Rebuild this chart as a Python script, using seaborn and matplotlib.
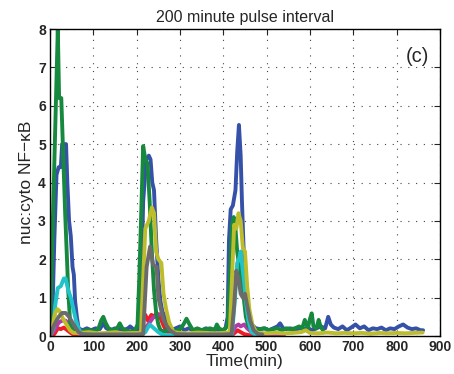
import numpy as np
import pandas as pd
import matplotlib
matplotlib.use("Agg")
import matplotlib.pyplot as plt
import seaborn as sns

# ---- data (time in min, nuc:cyto NF-kB ratio) ----
t_green = [0, 10, 18, 21, 26, 35, 42, 47, 55, 65, 75, 85, 95, 105, 112, 118, 123, 128, 135, 145, 155, 161, 167,
           175, 185, 195, 202, 206, 210, 215, 220, 225, 230, 235, 240, 245, 250, 255, 262, 270, 280, 290, 300,
           308, 315, 322, 330, 340, 350, 360, 370, 380, 385, 390, 398, 405, 410, 415, 420, 424, 428, 432, 437,
           442, 447, 452, 458, 465, 475, 485, 495, 505, 515, 525, 535, 545, 555, 565, 575, 582, 588, 595, 600,
           604, 608, 615, 620, 623, 627, 630]
v_green = [0.05, 4.5, 8.0, 6.2, 6.2, 3.2, 1.2, 0.25, 0.15, 0.1, 0.12, 0.15, 0.15, 0.12, 0.2, 0.4, 0.5, 0.35, 0.2,
           0.15, 0.2, 0.33, 0.2, 0.15, 0.12, 0.12, 0.3, 1.5, 3.0, 4.95, 4.6, 4.5, 3.5, 2.2, 1.2, 0.6, 0.3, 0.15,
           0.12, 0.15, 0.2, 0.12, 0.18, 0.3, 0.45, 0.3, 0.15, 0.2, 0.15, 0.18, 0.2, 0.15, 0.3, 0.2, 0.15, 0.2,
           0.3, 1.5, 2.9, 3.1, 2.8, 2.2, 1.8, 1.5, 1.0, 0.5, 0.25, 0.2, 0.15, 0.18, 0.2, 0.15, 0.18, 0.2, 0.15,
           0.2, 0.18, 0.2, 0.25, 0.2, 0.42, 0.2, 0.45, 0.59, 0.25, 0.2, 0.42, 0.3, 0.2, 0.15]

t_blue = [0, 5, 10, 15, 20, 25, 28, 37, 40, 44, 48, 52, 55, 58, 62, 66, 75, 85, 95, 105, 115, 123, 130, 140, 150,
          160, 170, 180, 185, 195, 205, 210, 215, 222, 228, 232, 236, 240, 245, 250, 255, 260, 265, 272, 280, 290,
          300, 310, 320, 330, 340, 350, 360, 370, 380, 390, 400, 405, 410, 413, 417, 422, 428, 432, 436, 440, 443,
          447, 452, 457, 465, 475, 485, 495, 505, 515, 525, 531, 538, 545, 555, 565, 575, 585, 595, 605, 615, 625,
          635, 642, 648, 655, 665, 675, 685, 695, 705, 715, 725, 735, 745, 755, 765, 775, 785, 795, 805, 815, 825,
          835, 845, 855, 861]
v_blue = [0.0, 0.3, 2.5, 4.2, 4.4, 4.4, 5.0, 5.0, 4.0, 3.0, 2.6, 1.8, 1.6, 0.9, 0.5, 0.2, 0.15, 0.2, 0.15, 0.2,
          0.18, 0.33, 0.2, 0.15, 0.2, 0.18, 0.15, 0.2, 0.25, 0.15, 0.2, 1.0, 3.5, 4.6, 4.7, 4.6, 4.0, 3.8, 2.5,
          1.5, 0.9, 0.6, 0.4, 0.2, 0.15, 0.2, 0.25, 0.15, 0.2, 0.15, 0.18, 0.15, 0.2, 0.15, 0.18, 0.15, 0.15,
          0.2, 0.5, 2.5, 3.3, 3.4, 3.8, 4.8, 5.5, 4.7, 3.5, 2.2, 1.2, 0.6, 0.3, 0.2, 0.18, 0.2, 0.15, 0.2, 0.25,
          0.33, 0.2, 0.18, 0.2, 0.15, 0.2, 0.18, 0.2, 0.15, 0.2, 0.25, 0.2, 0.5, 0.3, 0.22, 0.18, 0.25, 0.15,
          0.22, 0.3, 0.2, 0.25, 0.15, 0.2, 0.18, 0.22, 0.15, 0.2, 0.18, 0.25, 0.3, 0.22, 0.18, 0.2, 0.15, 0.15]

t_cyan = [0, 8, 12, 18, 25, 32, 36, 42, 48, 54, 60, 66, 70, 80, 100, 150, 200, 210, 220, 230, 240, 250, 260,
          300, 350, 400, 420, 427, 432, 436, 440, 444, 448, 452, 458, 465, 475, 490]
v_cyan = [0.0, 0.2, 0.8, 1.25, 1.3, 1.5, 1.5, 1.2, 1.0, 0.7, 0.4, 0.2, 0.1, 0.05, 0.03, 0.03, 0.03, 0.02, 0.1,
          0.3, 0.2, 0.1, 0.03, 0.02, 0.03, 0.02, 0.05, 1.0, 1.9, 2.0, 2.2, 1.8, 1.4, 0.9, 0.4, 0.1, 0.03, 0.03]

t_yellow = [0, 5, 12, 17, 22, 30, 38, 46, 54, 70, 90, 110, 130, 150, 170, 190, 205, 210, 215, 220, 228, 235, 240,
            245, 250, 257, 262, 268, 275, 285, 300, 320, 340, 360, 380, 400, 415, 420, 425, 430, 435, 440, 445,
            450, 455, 460, 467, 475, 480, 500, 520, 540, 560, 580, 590, 600, 620, 640, 660, 680, 700, 720, 740,
            760, 780, 800, 820, 840, 860]
v_yellow = [0.02, 0.2, 0.6, 0.7, 0.65, 0.45, 0.3, 0.15, 0.08, 0.08, 0.1, 0.07, 0.08, 0.1, 0.07, 0.08, 0.08, 0.1,
            1.5, 2.8, 3.0, 3.35, 3.2, 2.2, 2.0, 1.9, 1.1, 0.7, 0.35, 0.1, 0.08, 0.07, 0.09, 0.08, 0.07, 0.08,
            0.1, 1.5, 2.9, 2.8, 3.2, 3.0, 2.3, 2.2, 1.3, 0.7, 0.3, 0.12, 0.08, 0.07, 0.08, 0.07, 0.08, 0.1,
            0.15, 0.08, 0.07, 0.09, 0.07, 0.08, 0.07, 0.08, 0.06, 0.08, 0.07, 0.08, 0.07, 0.08, 0.09]

t_gray = [0, 10, 20, 28, 36, 44, 52, 60, 66, 75, 100, 150, 200, 215, 223, 231, 238, 246, 250, 256, 262, 270, 277,
          290, 320, 360, 400, 419, 425, 430, 435, 440, 445, 450, 455, 462, 470, 480, 490]
v_gray = [0.0, 0.3, 0.5, 0.6, 0.6, 0.5, 0.35, 0.2, 0.1, 0.05, 0.04, 0.04, 0.04, 0.05, 1.8, 2.33, 1.85, 1.8, 1.0,
          0.7, 0.42, 0.25, 0.15, 0.05, 0.04, 0.04, 0.04, 0.05, 0.8, 1.7, 1.5, 1.1, 1.0, 1.1, 0.8, 0.4, 0.15,
          0.05, 0.04]

t_magenta = [0, 10, 20, 28, 36, 45, 52, 60, 70, 100, 150, 200, 206, 215, 223, 230, 238, 250, 261, 267, 273, 280,
             286, 295, 350, 400, 420, 428, 435, 440, 448, 455, 465, 475, 500, 540]
v_magenta = [0.0, 0.15, 0.35, 0.4, 0.4, 0.3, 0.2, 0.1, 0.03, 0.02, 0.02, 0.02, 0.1, 0.18, 0.25, 0.35, 0.48, 0.55,
             0.6, 0.45, 0.33, 0.2, 0.1, 0.03, 0.02, 0.02, 0.05, 0.25, 0.3, 0.25, 0.3, 0.2, 0.1, 0.05, 0.03, 0.03]

t_red = [0, 10, 18, 25, 32, 40, 48, 55, 100, 150, 205, 210, 215, 220, 226, 234, 240, 246, 254, 262, 270, 280,
         350, 420, 428, 433, 440, 448, 460, 500]
v_red = [0.0, 0.05, 0.2, 0.18, 0.22, 0.15, 0.08, 0.03, 0.02, 0.02, 0.02, 0.3, 0.45, 0.55, 0.4, 0.55, 0.5, 0.6,
         0.5, 0.27, 0.1, 0.03, 0.02, 0.02, 0.1, 0.15, 0.1, 0.05, 0.02, 0.02]

series = [
    ("red", t_red, v_red, "#ee1c24"),
    ("magenta", t_magenta, v_magenta, "#b23bab"),
    ("blue", t_blue, v_blue, "#3651a8"),
    ("green", t_green, v_green, "#16893f"),
    ("cyan", t_cyan, v_cyan, "#1fc3c9"),
    ("yellow", t_yellow, v_yellow, "#bdbd2b"),
    ("gray", t_gray, v_gray, "#6b6b6b"),
]

x_ticks = [0, 100, 200, 300, 400, 500, 600, 700, 800, 900]
y_ticks = [0, 1, 2, 3, 4, 5, 6, 7, 8]

sns.set_style("ticks")
plt.rcParams['font.family'] = ['Liberation Sans', 'DejaVu Sans']

fig = plt.figure(figsize=(4.54, 3.74), dpi=100)
ax = fig.add_axes([50 / 454, 1 - 336 / 374, 390 / 454, 307 / 374])

for name, t, v, c in series:
    df = pd.DataFrame({"t": t, "v": v})
    sns.lineplot(data=df, x="t", y="v", color=c, linewidth=2.8, ax=ax, estimator=None, sort=False)

ax.set_xlim(0, 900)
ax.set_ylim(0, 8)
ax.set_xticks(x_ticks)
ax.set_yticks(y_ticks)
ax.set_xticklabels([str(x) for x in x_ticks], fontweight="bold", fontsize=10)
ax.set_yticklabels([str(y) for y in y_ticks], fontweight="bold", fontsize=10)
ax.grid(True, linestyle=(0, (1, 6)), color="#444444", linewidth=0.8)
ax.tick_params(direction="in", top=True, right=True, length=4, width=0.8, pad=3)
for s in ax.spines.values():
    s.set_visible(True)
    s.set_linewidth(1.0)
    s.set_color("black")

ax.set_xlabel("Time(min)", fontsize=12.5, labelpad=0)
ax.set_ylabel("nuc:cyto NF\u2212\u03baB", fontsize=12.5, labelpad=3)
ax.set_title("200 minute pulse interval", fontsize=11.5, pad=5)
ax.text(0.972, 0.94, "(c)", transform=ax.transAxes, ha="right", va="top", fontsize=14.5)

fig.savefig("out.png", dpi=100)
